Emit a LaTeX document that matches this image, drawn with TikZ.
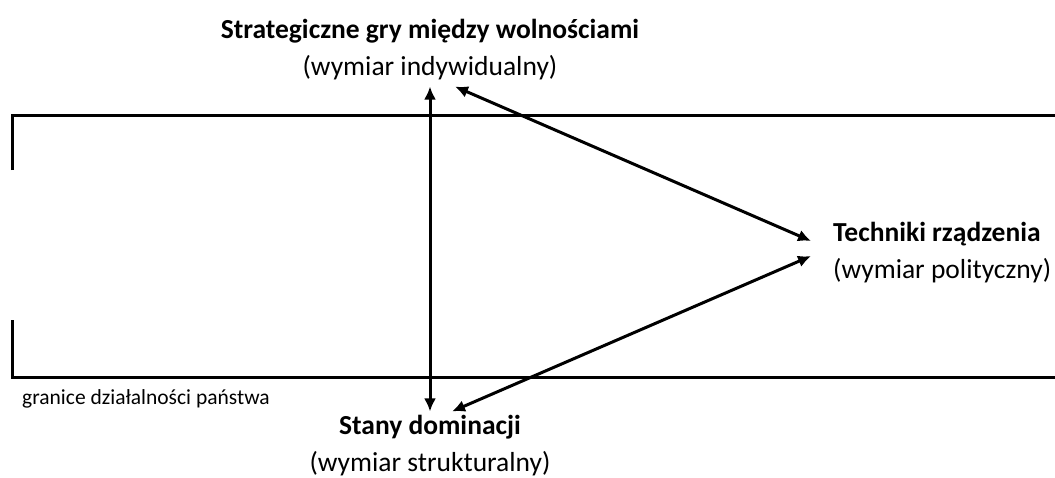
\documentclass[tikz,border=0pt]{standalone}
\usepackage{fontspec}
\setmainfont{Carlito}
\usetikzlibrary{arrows.meta, positioning}

\begin{document}
\begin{tikzpicture}[
    x=1pt, y=-1pt,
    label/.style={inner sep=0pt, align=center, font={\fontsize{27.5}{37}\selectfont}},
    bound/.style={line width=3pt},
    dbl/.style={{Latex[length=13pt,width=12pt]}-{Latex[length=13pt,width=12pt]}, line width=3pt}
]
\useasboundingbox (0,0) rectangle (1055,477);

% state limits
\draw[bound] (12,170) -- (12,115) -- (1055,115);
\draw[bound] (12,320) -- (12,377) -- (1055,377);
\node[anchor=north west, inner sep=0pt, font={\fontsize{21.5}{24}\selectfont}] (limits) at (22,389) {granice działalności państwa};

% three dimensions
\node[label] (ind) at (430,50) {\textbf{Strategiczne gry między wolnościami}\\(wymiar indywidualny)};
\node[label] (dom) at (430,446) {\textbf{Stany dominacji}\\(wymiar strukturalny)};
\node[label, align=left, anchor=west] (tech) at (833,253) {\textbf{Techniki rządzenia}\\(wymiar polityczny)};

\coordinate (indB) at ([yshift=-6pt]ind.south);
\coordinate (domT) at ([yshift=4pt]dom.north);
\coordinate (indR) at ([xshift=25pt]indB);
\coordinate (domR) at ([xshift=22pt]domT);
\coordinate (techU) at ([xshift=-22pt, yshift=12pt]tech.west);
\coordinate (techD) at ([xshift=-22pt, yshift=-3pt]tech.west);

\draw[dbl] (indB) -- (domT);
\draw[dbl] (indR) -- (techU);
\draw[dbl] (domR) -- (techD);
\end{tikzpicture}
\end{document}
